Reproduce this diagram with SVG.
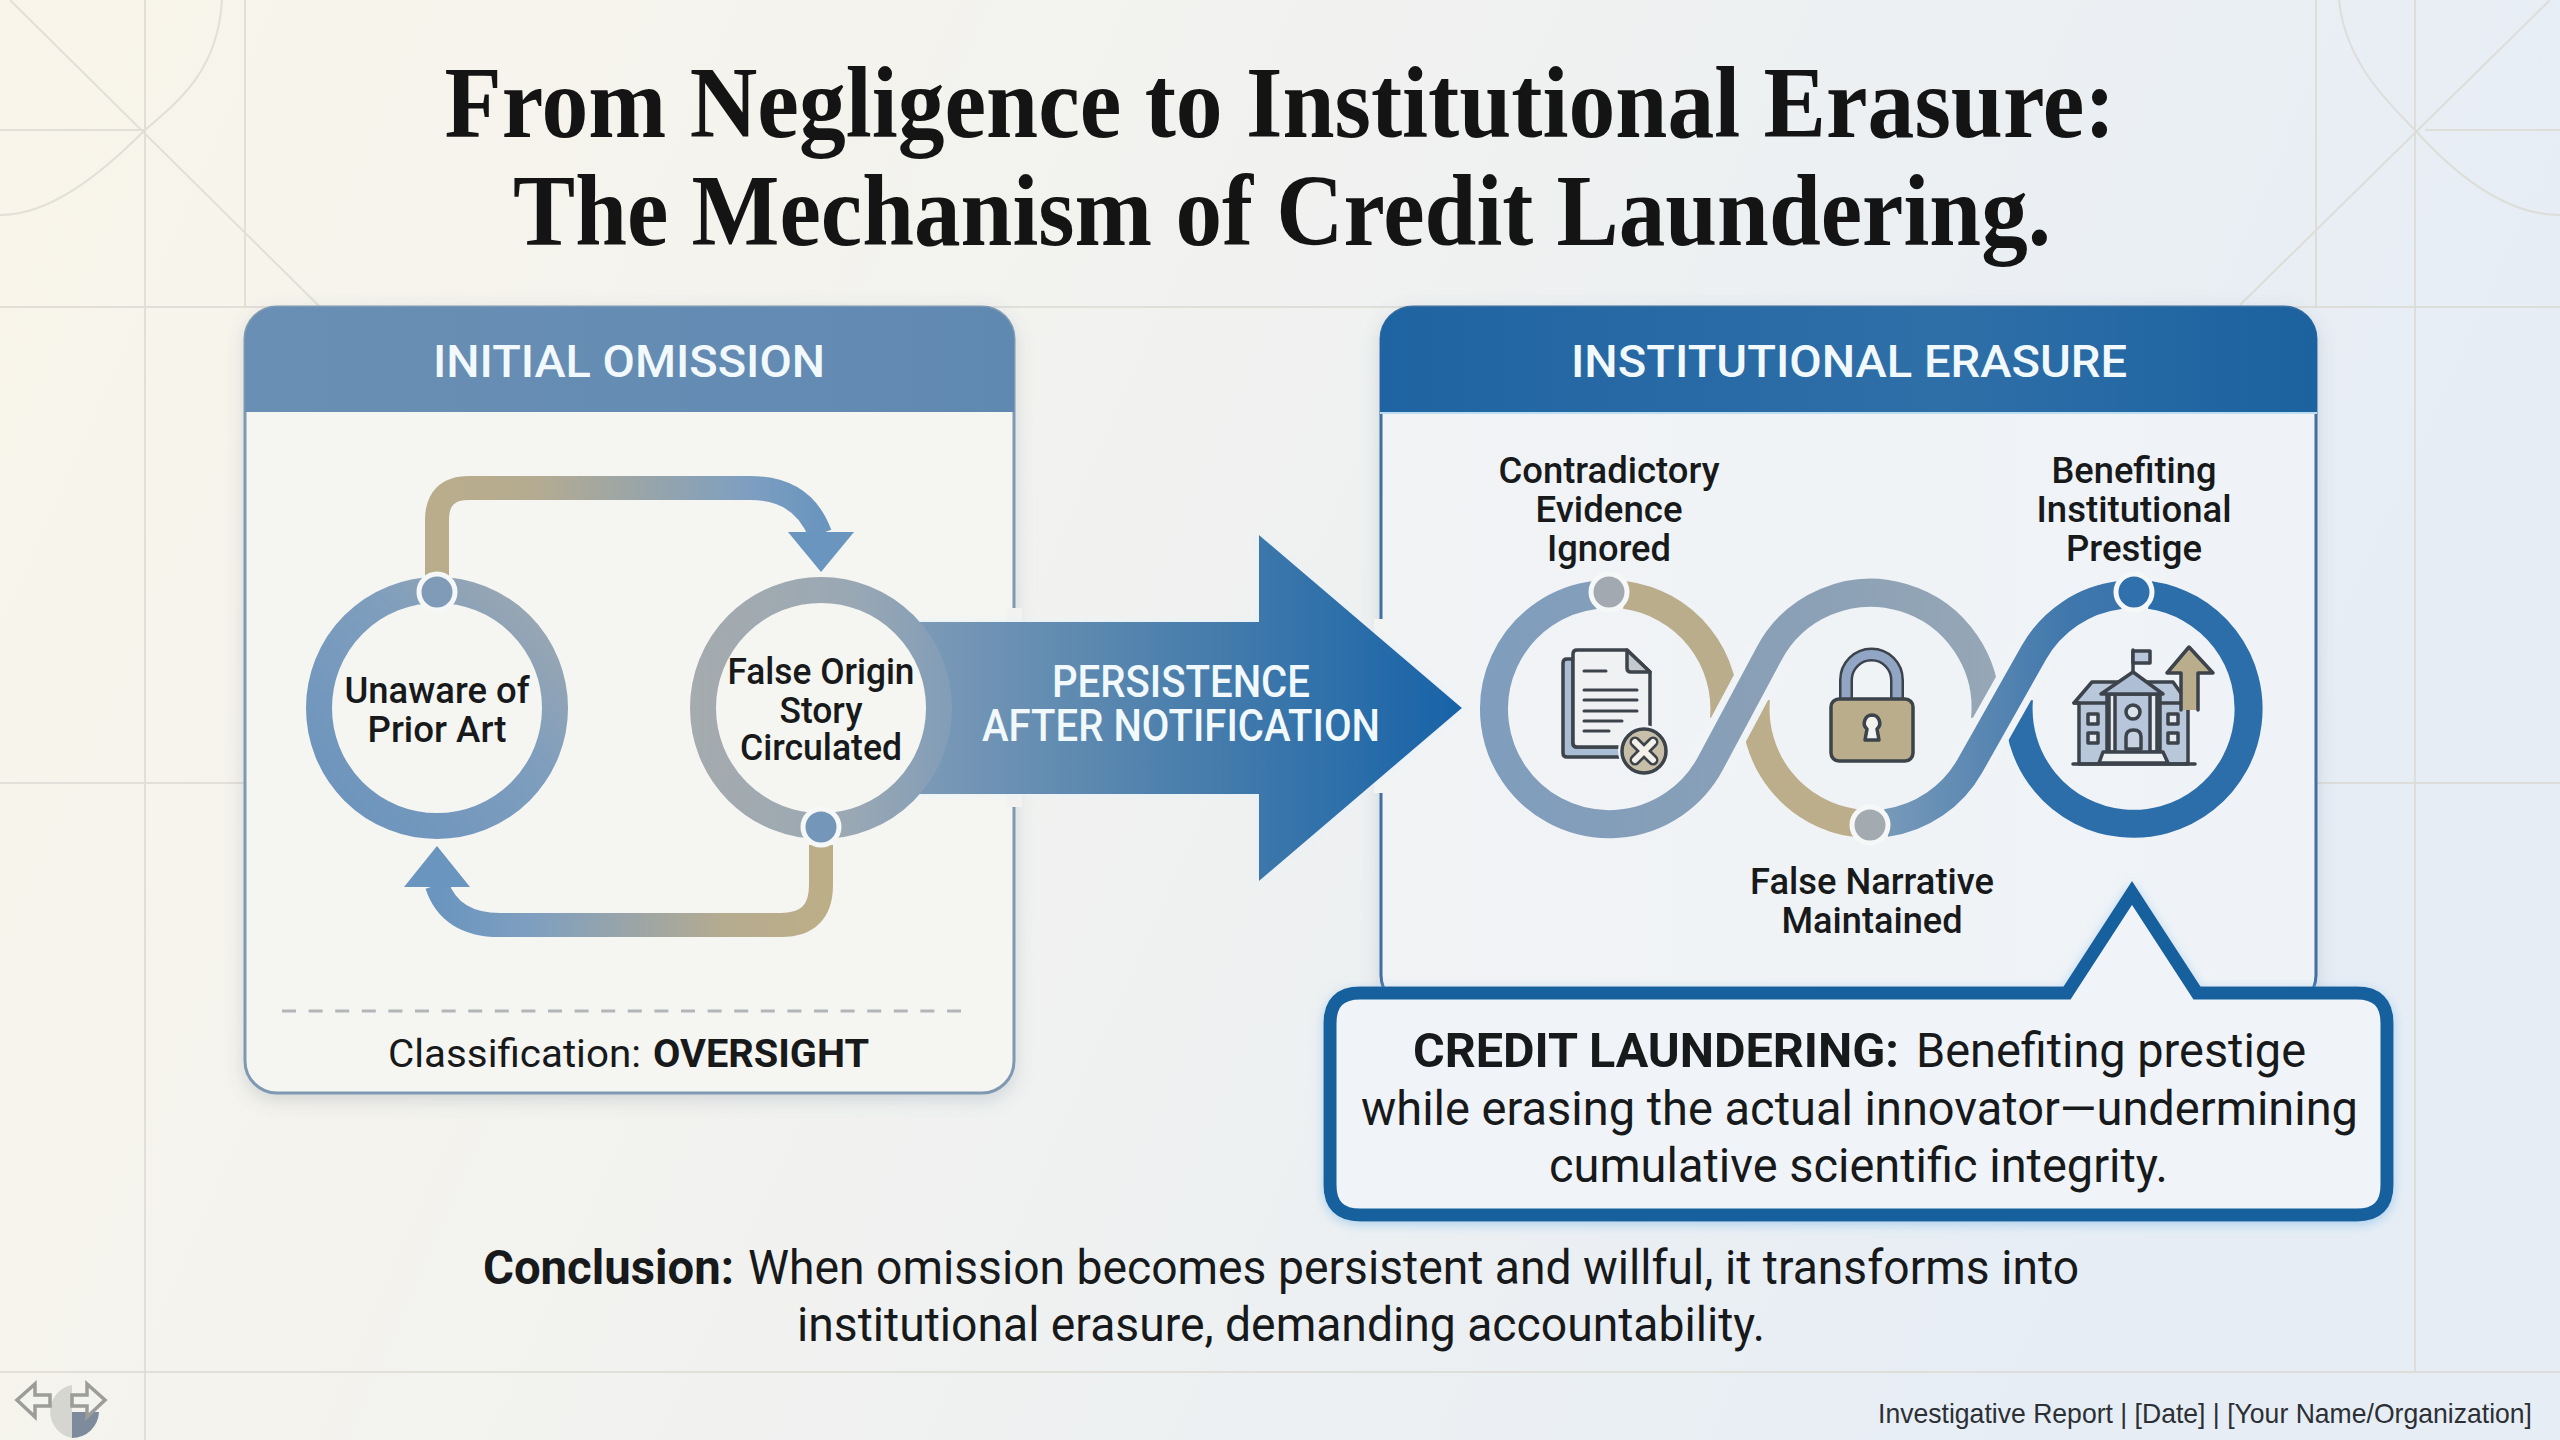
<svg xmlns="http://www.w3.org/2000/svg" width="2560" height="1440" viewBox="0 0 2560 1440">
<style>
text{font-family:Roboto,"Liberation Sans",sans-serif;fill:#17191b;lengthAdjust:spacingAndGlyphs}
.title{font-family:"Liberation Serif","DejaVu Serif",serif;font-weight:700;font-size:102px;fill:#141414;text-anchor:middle}
.hdr{font-weight:500;font-size:44px;fill:#f2f9fc;text-anchor:middle}
.lbl{font-weight:500;font-size:37px;text-anchor:middle}
.big{font-size:48px}
.b{font-weight:700}
.grid{stroke:#d9d8d0;stroke-width:2;fill:none;opacity:.75}
.dark{stroke:#3c434b;stroke-width:3.5;stroke-linejoin:round;stroke-linecap:round}
.ink{stroke:#3c434b;stroke-width:3;fill:none;stroke-linecap:round}
.rib{fill:none;stroke-width:28}
.halo{fill:none;stroke:#f1f4f7;stroke-width:42}
.dot{stroke:#f6f8f8;stroke-width:5}
.ft{fill:#f3f3ef;stroke:#9c9c98;stroke-width:3.5;stroke-linejoin:miter}
</style>
<defs>
<linearGradient id="bg" x1="0" y1="0" x2="1" y2=".25"><stop offset="0" stop-color="#f9f5ea"/><stop offset=".5" stop-color="#f1f2f0"/><stop offset="1" stop-color="#e6edf5"/></linearGradient>
<linearGradient id="h1" x1="0" x2="1" y1="0" y2="0"><stop offset="0" stop-color="#6a8fb4"/><stop offset="1" stop-color="#6089b2"/></linearGradient>
<linearGradient id="h2" x1="0" x2="1" y1="0" y2="0"><stop offset="0" stop-color="#1f64a2"/><stop offset=".6" stop-color="#2f6fa8"/><stop offset="1" stop-color="#1b629f"/></linearGradient>
<linearGradient id="arrow" gradientUnits="userSpaceOnUse" x1="900" y1="0" x2="1462" y2="0"><stop offset="0" stop-color="#7f9cb8"/><stop offset=".5" stop-color="#4b7fac"/><stop offset="1" stop-color="#1763a8"/></linearGradient>
<linearGradient id="c1" x1="0" y1="1" x2="1" y2="0"><stop offset="0" stop-color="#6a93bd"/><stop offset=".6" stop-color="#7f9ebd"/><stop offset="1" stop-color="#a0a9b0"/></linearGradient>
<linearGradient id="c2" gradientUnits="userSpaceOnUse" x1="690" y1="0" x2="960" y2="0"><stop offset="0" stop-color="#a5abae"/><stop offset=".6" stop-color="#9aa8b4"/><stop offset="1" stop-color="#7f9cb8"/></linearGradient>
<linearGradient id="top" gradientUnits="userSpaceOnUse" x1="437" y1="0" x2="821" y2="0"><stop offset="0" stop-color="#b9ad8b"/><stop offset=".25" stop-color="#b5ab90"/><stop offset=".8" stop-color="#7f9fc0"/><stop offset="1" stop-color="#6a95bf"/></linearGradient>
<linearGradient id="bot" gradientUnits="userSpaceOnUse" x1="821" y1="0" x2="437" y2="0"><stop offset="0" stop-color="#bcae87"/><stop offset=".25" stop-color="#b5ab90"/><stop offset=".75" stop-color="#7f9fc0"/><stop offset="1" stop-color="#6a95bf"/></linearGradient>
<linearGradient id="s1" gradientUnits="userSpaceOnUse" x1="1480" y1="0" x2="2000" y2="0"><stop offset="0" stop-color="#7f9dbd"/><stop offset=".6" stop-color="#8aa0b6"/><stop offset="1" stop-color="#96a7b6"/></linearGradient>
<linearGradient id="s2" gradientUnits="userSpaceOnUse" x1="1870" y1="0" x2="2270" y2="0"><stop offset="0" stop-color="#7c9cba"/><stop offset=".5" stop-color="#3f77ac"/><stop offset="1" stop-color="#2c6ea9"/></linearGradient>
<linearGradient id="pan2" x1="0" x2="1" y1="0" y2="0"><stop offset="0" stop-color="#f1f3f5"/><stop offset="1" stop-color="#eff3f7"/></linearGradient>
<filter id="sh" x="-5%" y="-5%" width="110%" height="110%"><feDropShadow dx="0" dy="6" stdDeviation="9" flood-color="#5b6f85" flood-opacity=".22"/></filter>
<filter id="glow" x="-5%" y="-10%" width="110%" height="125%"><feDropShadow dx="0" dy="3" stdDeviation="6" flood-color="#8fc4ec" flood-opacity=".7"/></filter>
<filter id="ah" x="-5%" y="-5%" width="110%" height="110%"><feDropShadow dx="0" dy="0" stdDeviation="3" flood-color="#e3f2fb" flood-opacity="1"/></filter>
<clipPath id="h1c"><rect x="245" y="307" width="769" height="105"/></clipPath>
<clipPath id="h2c"><rect x="1380" y="307" width="937" height="105"/></clipPath>
</defs>

<g id="background">
<rect width="2560" height="1440" fill="url(#bg)"/>
<path class="grid" d="M145 0V1440M245 0V307M0 130H145M0 307H2560M0 783H245M10 0L320 307M222 0C218 70 180 100 145 130C100 175 50 215 0 215"/>
<path class="grid" d="M2415 0V1372M2316 0V307M2425 130H2560M2316 783H2560M2550 0L2240 305M2339 0C2345 60 2385 100 2415 130C2460 180 2510 215 2560 215"/>
<path class="grid" d="M0 1372H2560" opacity=".9"/>
</g>

<g id="title">
<text class="title" x="1280" y="137" textLength="1671" lengthAdjust="spacingAndGlyphs">From Negligence to Institutional Erasure:</text>
<text class="title" x="1282" y="245" textLength="1538" lengthAdjust="spacingAndGlyphs">The Mechanism of Credit Laundering.</text>
</g>

<g id="panel-initial-omission">
<rect x="245" y="307" width="769" height="786" rx="32" fill="#f5f5f1" stroke="#7f99b3" stroke-width="3" filter="url(#sh)"/>
<rect x="245" y="307" width="769" height="136" rx="32" fill="url(#h1)" clip-path="url(#h1c)"/>
<text class="hdr" x="629" y="377" textLength="392" lengthAdjust="spacingAndGlyphs">INITIAL OMISSION</text>
<line x1="282" y1="1011" x2="967" y2="1011" stroke="#b3b6b8" stroke-width="3" stroke-dasharray="14 12.6"/>
<text x="388" y="1067" font-size="39" textLength="253" lengthAdjust="spacingAndGlyphs">Classification:</text>
<text class="b" x="653" y="1067" font-size="39" textLength="216" lengthAdjust="spacingAndGlyphs">OVERSIGHT</text>
</g>

<g id="panel-institutional-erasure">
<rect x="1381" y="307" width="935" height="700" fill="url(#pan2)" rx="32" stroke="#3f6f9f" stroke-width="3" filter="url(#sh)"/>
<rect x="1380" y="307" width="937" height="136" rx="32" fill="url(#h2)" clip-path="url(#h2c)"/>
<line x1="1380" y1="413" x2="2317" y2="413" stroke="#bcdcf0" stroke-width="2"/>
<text class="hdr" x="1849" y="377" textLength="556" lengthAdjust="spacingAndGlyphs">INSTITUTIONAL ERASURE</text>
</g>

<g id="connectors">
<rect x="1006" y="608" width="16" height="199" fill="#f2f2f0"/>
<rect x="1374" y="619" width="16" height="174" fill="#f2f3f3"/>
<path id="edge-persistence" d="M880 622H1259V535L1462 708L1259 881V794H880Z" fill="url(#arrow)" filter="url(#ah)"/>
<path id="edge-top" d="M437 576V520Q437 488 469 488H750Q803 488 820 534" fill="none" stroke="url(#top)" stroke-width="24"/>
<polygon points="788,532 854,532 821,572" fill="#6a95bf"/>
<path id="edge-bottom" d="M821 845V885Q821 925 781 925H500Q450 925 437 885" fill="none" stroke="url(#bot)" stroke-width="24"/>
<polygon points="404,887 470,887 437,846" fill="#6a95bf"/>
<g id="ribbon">
<path class="rib" stroke="#b9ad8b" d="M1625 595A115 115 0 0 1 1724 719"/>
<path class="rib" stroke="#bcae8a" d="M1855 823A115 115 0 0 1 1756 699"/>
<path class="halo" d="M1710.4 763.4L1768.6 654.6"/>
<path class="rib" stroke="url(#s1)" d="M1595 595A115 115 0 1 0 1710.4 763.4L1768.6 654.6A115 115 0 0 1 1985 719"/>
<path class="rib" stroke="#2c6ea9" d="M2150 595A115 115 0 1 1 2019 699"/>
<path class="halo" d="M1970.2 765.4L2033.8 652.6"/>
<path class="rib" stroke="url(#s2)" d="M1886 823A115 115 0 0 0 1970.2 765.4L2033.8 652.6A115 115 0 0 1 2120 595"/>
</g>
</g>

<g id="node-unaware">
<circle cx="437" cy="708" r="118" fill="#f5f5f1" stroke="url(#c1)" stroke-width="26"/>
<circle class="dot" cx="437" cy="592" r="18" fill="#7f9bb8"/>
<text class="lbl" x="437" y="703" textLength="185" lengthAdjust="spacingAndGlyphs">Unaware of</text>
<text class="lbl" x="437" y="742" textLength="139" lengthAdjust="spacingAndGlyphs">Prior Art</text>
</g>
<g id="node-false-origin">
<circle cx="821" cy="708" r="118" fill="#f5f5f1" stroke="url(#c2)" stroke-width="26"/>
<circle class="dot" cx="821" cy="827" r="18" fill="#7396b9"/>
<text class="lbl" x="821" y="684" textLength="187" lengthAdjust="spacingAndGlyphs">False Origin</text>
<text class="lbl" x="821" y="723" textLength="83" lengthAdjust="spacingAndGlyphs">Story</text>
<text class="lbl" x="821" y="760" textLength="162" lengthAdjust="spacingAndGlyphs">Circulated</text>
</g>

<g id="label-persistence">
<text class="hdr" x="1181" y="697" font-size="42" textLength="258" lengthAdjust="spacingAndGlyphs">PERSISTENCE</text>
<text class="hdr" x="1181" y="741" font-size="42" textLength="398" lengthAdjust="spacingAndGlyphs">AFTER NOTIFICATION</text>
</g>

<g id="node-contradictory">
<circle class="dot" cx="1609" cy="592" r="18" fill="#a3a9b1"/>
<text class="lbl" x="1609" y="483" textLength="221" lengthAdjust="spacingAndGlyphs">Contradictory</text>
<text class="lbl" x="1609" y="522" textLength="147" lengthAdjust="spacingAndGlyphs">Evidence</text>
<text class="lbl" x="1609" y="561" textLength="124" lengthAdjust="spacingAndGlyphs">Ignored</text>
<g id="icon-document">
<path class="dark" d="M1573 659H1567Q1563 659 1563 663V753Q1563 757 1567 757H1622V747H1577Q1573 747 1573 743Z" fill="#a9bdd4"/>
<path class="dark" d="M1577 650H1627L1650 672V747H1577Q1573 747 1573 743V654Q1573 650 1577 650Z" fill="#f0f1f2"/>
<path class="dark" d="M1627 650V668Q1627 672 1631 672H1650Z" fill="#c4c9cd"/>
<path class="ink" d="M1584 671H1606M1584 690H1637M1584 700H1637M1584 711H1637M1584 721H1622M1584 731H1609"/>
<circle cx="1644" cy="751" r="26" fill="#f1f4f7"/>
<circle class="dark" cx="1644" cy="751" r="22" fill="#c8bfa8"/>
<path d="M1635 742L1653 760M1653 742L1635 760" stroke="#3c434b" stroke-width="11" stroke-linecap="round"/>
<path d="M1635 742L1653 760M1653 742L1635 760" stroke="#f3f1ea" stroke-width="6" stroke-linecap="round"/>
</g>
</g>

<g id="node-false-narrative">
<circle class="dot" cx="1870" cy="825" r="18" fill="#a3aab0"/>
<text class="lbl" x="1872" y="894" textLength="244" lengthAdjust="spacingAndGlyphs">False Narrative</text>
<text class="lbl" x="1872" y="933" textLength="181" lengthAdjust="spacingAndGlyphs">Maintained</text>
<g id="icon-lock">
<path d="M1846 702V680A25.5 25.5 0 0 1 1897 680V702" fill="none" stroke="#3c434b" stroke-width="14"/>
<path d="M1846 702V680A25.5 25.5 0 0 1 1897 680V702" fill="none" stroke="#90a6c4" stroke-width="9"/>
<rect class="dark" x="1831" y="699" width="82" height="62" rx="8" fill="#b9ad8b"/>
<path class="dark" d="M1872 715a8 8 0 0 1 5 14l2 11h-14l2 -11a8 8 0 0 1 5 -14Z" fill="#f2f2ee"/>
</g>
</g>

<g id="node-benefiting">
<circle class="dot" cx="2134" cy="592" r="18" fill="#2f70ad"/>
<text class="lbl" x="2134" y="483" textLength="165" lengthAdjust="spacingAndGlyphs">Benefiting</text>
<text class="lbl" x="2134" y="522" textLength="195" lengthAdjust="spacingAndGlyphs">Institutional</text>
<text class="lbl" x="2134" y="561" textLength="136" lengthAdjust="spacingAndGlyphs">Prestige</text>
<g id="icon-institution">
<path class="dark" d="M2074 703L2092 682H2173L2188 703V764H2079V703Z" fill="#b9c7da"/>
<path class="dark" d="M2074 703H2107M2160 703H2188" fill="none"/>
<rect class="dark" x="2107" y="694" width="53" height="60" fill="#b7c6da"/>
<rect class="dark" x="2109" y="694" width="6" height="58" fill="#e8edf2"/>
<rect class="dark" x="2150" y="694" width="7" height="58" fill="#e8edf2"/>
<path class="dark" d="M2101 694L2133 672L2163 694Z" fill="#aebfd5"/>
<path class="dark" d="M2133 672V650" fill="none"/>
<rect class="dark" x="2133" y="651" width="17" height="12" fill="#b7c6da"/>
<circle class="dark" cx="2133" cy="712" r="7" fill="#dce3eb"/>
<path class="dark" d="M2126 749V737Q2126 730 2133.500 730Q2141 730 2141 737V749Z" fill="#c6d2e1"/>
<path class="dark" d="M2099 763L2103 752H2163L2168 763Z" fill="#eef1f4"/>
<rect class="dark" x="2088" y="714" width="10" height="10" fill="#e6ebf1"/>
<rect class="dark" x="2088" y="733" width="10" height="10" fill="#e6ebf1"/>
<rect class="dark" x="2168" y="714" width="10" height="10" fill="#e6ebf1"/>
<rect class="dark" x="2168" y="733" width="10" height="10" fill="#e6ebf1"/>
<path class="dark" d="M2073 764H2195" fill="none"/>
<path d="M2189 647L2213 673H2198V710H2181V673H2167Z" fill="#b9ad8b"/>
<path class="dark" d="M2181 710V673H2167L2189 647L2213 673H2198V710" fill="none"/>
</g>
</g>

<g id="callout">
<path d="M1360 993H2067L2132 893L2197 993H2357Q2387 993 2387 1023V1185Q2387 1215 2357 1215H1360Q1330 1215 1330 1185V1023Q1330 993 1360 993Z" fill="#f0f4f8" stroke="#15609e" stroke-width="13" stroke-linejoin="miter" filter="url(#glow)"/>
<text class="big b" x="1413" y="1067" textLength="486" lengthAdjust="spacingAndGlyphs">CREDIT LAUNDERING:</text>
<text class="big" x="1916" y="1067" textLength="390" lengthAdjust="spacingAndGlyphs">Benefiting prestige</text>
<text class="big" x="1361" y="1125" textLength="997" lengthAdjust="spacingAndGlyphs">while erasing the actual innovator—undermining</text>
<text class="big" x="1549" y="1182" textLength="619" lengthAdjust="spacingAndGlyphs">cumulative scientific integrity.</text>
</g>

<g id="conclusion">
<text class="big b" x="483" y="1284" textLength="251" lengthAdjust="spacingAndGlyphs">Conclusion:</text>
<text class="big" x="748" y="1284" textLength="1331" lengthAdjust="spacingAndGlyphs">When omission becomes persistent and willful, it transforms into</text>
<text class="big" x="797" y="1341" textLength="968" lengthAdjust="spacingAndGlyphs">institutional erasure, demanding accountability.</text>
</g>

<g id="footer">
<text x="1878" y="1423" font-size="28" style="font-family:'Liberation Sans',Arial,sans-serif;fill:#2c3034" textLength="654" lengthAdjust="spacingAndGlyphs">Investigative Report | [Date] | [Your Name/Organization]</text>
<path d="M72 1385A27 27 0 0 0 72 1438Z" fill="#d6d6d1"/>
<path d="M72 1412H99A27 27 0 0 1 72 1438Z" fill="#7e8b9d"/>
<path class="ft" d="M17 1400L35 1384V1395H50V1406H35V1417Z"/>
<path class="ft" d="M105 1400L87 1384V1395H72V1406H87V1417Z"/>
</g>
</svg>
